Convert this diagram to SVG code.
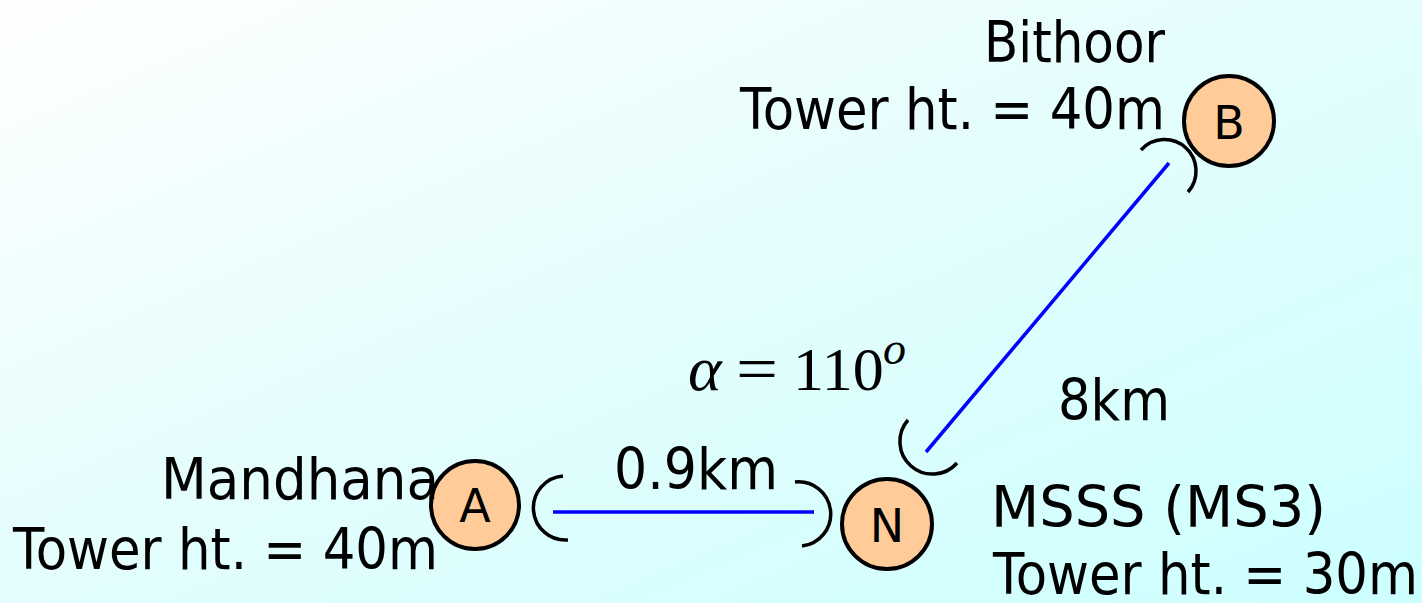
<svg xmlns="http://www.w3.org/2000/svg" width="1422" height="603" viewBox="0 0 1422 603">
<defs>
<linearGradient id="bg" x1="0" y1="0" x2="1" y2="1">
<stop offset="0" stop-color="#ffffff"/>
<stop offset="0.45" stop-color="#e6fdfd"/>
<stop offset="1" stop-color="#ccffff"/>
</linearGradient>
<style>
.lbl{font-family:"DejaVu Sans",sans-serif;font-size:57px;fill:#000}
.nd{fill:#ffcc99;stroke:#000;stroke-width:4}
.ndt{font-family:"DejaVu Sans",sans-serif;font-size:46px;fill:#000;text-anchor:middle}
.link{stroke:#0000ff;stroke-width:3.5;fill:none}
.arc{stroke:#000;stroke-width:3.5;fill:none}
.m{font-family:"Liberation Serif","Times New Roman",serif;fill:#000}
</style>
</defs>
<rect width="1422" height="603" fill="url(#bg)"/>
<g id="connectors">
<line class="link" x1="553" y1="512" x2="814" y2="512"/>
<line class="link" x1="1169" y1="163" x2="926" y2="452"/>
<path class="arc" d="M563,476 A32,32 0 1 0 568,540"/>
<path class="arc" d="M795,482 A32,32 0 1 1 802,546"/>
<path class="arc" d="M908,420 A31,31 0 1 0 957,463"/>
<path class="arc" d="M1141,150 A31,31 0 0 1 1188,192"/>
</g>
<g id="node-A">
<circle class="nd" cx="475" cy="505" r="44"/>
<text class="ndt" x="475" y="522">A</text>
</g>
<g id="node-N">
<circle class="nd" cx="887" cy="524" r="45"/>
<text class="ndt" x="887" y="542">N</text>
</g>
<g id="node-B">
<circle class="nd" cx="1229" cy="121" r="45"/>
<text class="ndt" x="1229" y="139">B</text>
</g>
<g id="labels">
<text class="lbl" x="984" y="62" textLength="181" lengthAdjust="spacingAndGlyphs">Bithoor</text>
<text class="lbl" x="740" y="129" textLength="425" lengthAdjust="spacingAndGlyphs">Tower ht. = 40m</text>
<text class="lbl" x="1058" y="420" textLength="112" lengthAdjust="spacingAndGlyphs">8km</text>
<text class="lbl" x="614" y="489" textLength="164" lengthAdjust="spacingAndGlyphs">0.9km</text>
<text class="lbl" x="161" y="499" textLength="278" lengthAdjust="spacingAndGlyphs">Mandhana</text>
<text class="lbl" x="13" y="569" textLength="425" lengthAdjust="spacingAndGlyphs">Tower ht. = 40m</text>
<text class="lbl" x="991" y="527" textLength="335" lengthAdjust="spacingAndGlyphs">MSSS (MS3)</text>
<text class="lbl" x="993" y="594" textLength="425" lengthAdjust="spacingAndGlyphs">Tower ht. = 30m</text>
</g>
<g id="angle">
<text class="m" x="688" y="390" font-size="64" font-style="italic">α</text>
<text class="m" x="736" y="390" font-size="64" textLength="42" lengthAdjust="spacingAndGlyphs">=</text>
<text class="m" x="793" y="390" font-size="62">110</text>
<text class="m" x="883" y="364" font-size="46" font-style="italic">o</text>
</g>
</svg>
